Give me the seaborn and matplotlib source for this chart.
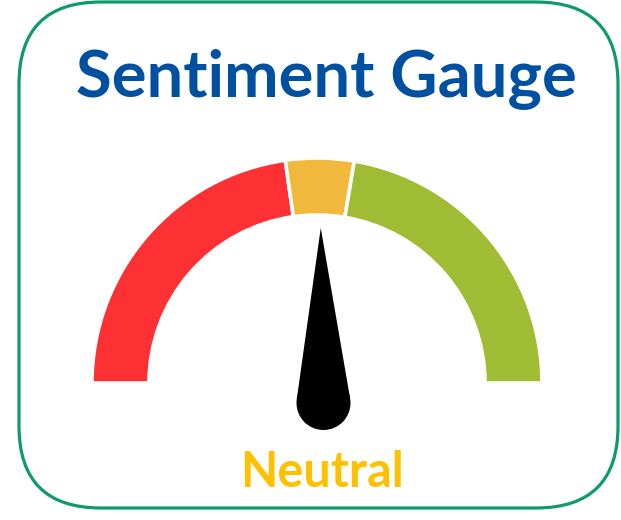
import numpy as np
import matplotlib
matplotlib.use("Agg")
import matplotlib.pyplot as plt
from matplotlib.patches import Wedge, Circle, Polygon, FancyBboxPatch
import seaborn as sns

# chart data
title = "Sentiment Gauge"
segment_labels = ["Negative", "Neutral", "Positive"]
segment_bounds = [0, 45.5, 55.3, 100]
segment_colors = ["#fd3033", "#f0b93c", "#a0bc34"]
needle_value = 49.5
reading_label = "Neutral"

sns.set_theme(style="white")
plt.rcParams['font.family'] = ['Lato', 'DejaVu Sans']

# layout in pixels (y up)
W, H = 621, 520
cx, cy = 317, 137
r_out, r_in = 225, 168
pivot = (323.5, 117)
pivot_r = 27
needle_len = 175


def to_angle(v):
    # 0 -> left (180 deg), 100 -> right (0 deg)
    return 180 - v / 100 * 180


fig = plt.figure(figsize=(W / 100, H / 100), dpi=100)
ax = fig.add_axes([0, 0, 1, 1])
ax.set_xlim(0, W)
ax.set_ylim(0, H)
ax.axis('off')

# rounded frame
frame = FancyBboxPatch((19, 12), 599, 506,
                       boxstyle="round,pad=0,rounding_size=82",
                       facecolor="white", edgecolor="#0f9a6e", linewidth=2.3)
ax.add_patch(frame)

# gauge segments
for lab, lo, hi, col in zip(segment_labels, segment_bounds[:-1], segment_bounds[1:], segment_colors):
    w = Wedge((cx, cy), r_out, to_angle(hi), to_angle(lo), width=r_out - r_in,
              facecolor=col, edgecolor="white", linewidth=2.6, joinstyle="miter",
              label=lab)
    ax.add_patch(w)

# needle: triangle tangent to the pivot circle
a = np.deg2rad(to_angle(needle_value))
tip = (pivot[0] + needle_len * np.cos(a), pivot[1] + needle_len * np.sin(a))
th = np.arccos(pivot_r / needle_len)
p1 = (pivot[0] + pivot_r * np.cos(a + th), pivot[1] + pivot_r * np.sin(a + th))
p2 = (pivot[0] + pivot_r * np.cos(a - th), pivot[1] + pivot_r * np.sin(a - th))
ax.add_patch(Polygon([tip, p1, pivot, p2], closed=True, facecolor="black", edgecolor="none"))
ax.add_patch(Circle(pivot, pivot_r, facecolor="black", edgecolor="none"))

# texts
ax.text(326, 423, title, ha="center", va="baseline", fontsize=47,
        fontweight="bold", color="#0050a2")
ax.text(321.5, 33, reading_label, ha="center", va="baseline", fontsize=35,
        fontweight="bold", color="#ffc000")

fig.savefig("out.png", dpi=100)
